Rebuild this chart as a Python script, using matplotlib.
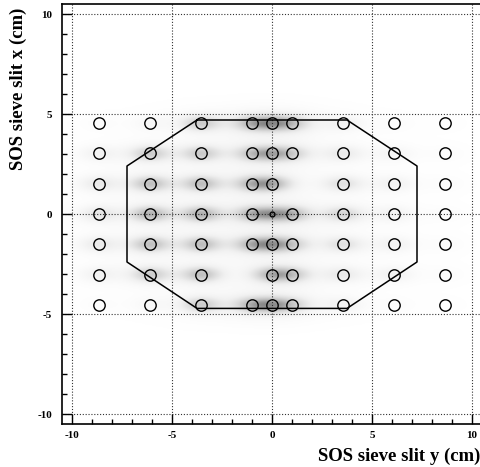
import numpy as np
import matplotlib
matplotlib.use('Agg')
import matplotlib.pyplot as plt
from matplotlib.ticker import MultipleLocator

plt.rcParams['axes.unicode_minus'] = False

# Sieve hole positions (horizontal = sieve y, vertical = sieve x), in cm
hole_cols = [-8.65, -6.1, -3.55, -1.0, 0.0, 1.0, 3.55, 6.1, 8.65]
hole_rows = [4.55, 3.03, 1.52, 0.0, -1.52, -3.03, -4.55]
missing_holes = [(1.0, 1.52), (-1.0, -3.03)]
small_hole = (0.0, 0.0)

# Relative event density around each hole (rows x cols)
cluster_weight = [
    [0.05, 0.10, 0.60, 0.60, 0.70, 0.50, 0.20, 0.05, 0.02],
    [0.20, 0.60, 0.60, 0.50, 0.60, 0.40, 0.30, 0.15, 0.05],
    [0.30, 0.70, 0.70, 0.60, 0.70, 0.00, 0.40, 0.20, 0.05],
    [0.35, 0.80, 0.80, 0.60, 0.60, 0.60, 0.50, 0.20, 0.05],
    [0.30, 0.70, 0.70, 0.60, 0.70, 0.40, 0.40, 0.20, 0.05],
    [0.20, 0.60, 0.70, 0.00, 0.70, 0.50, 0.30, 0.20, 0.05],
    [0.05, 0.10, 0.60, 0.60, 0.70, 0.40, 0.20, 0.05, 0.02],
]
cluster_sigma_h = 0.70
cluster_sigma_v = 0.27

# Octagonal acceptance cut
poly_h = [-3.75, 3.75, 7.25, 7.25, 3.75, -3.75, -7.25, -7.25, -3.75]
poly_v = [4.70, 4.70, 2.40, -2.40, -4.72, -4.72, -2.40, 2.40, 4.70]

W, H = 481, 467
fig = plt.figure(figsize=(W / 100, H / 100), dpi=100)
ax = fig.add_axes([62 / W, 43 / H, 420 / W, 420 / H])
ax.set_xlim(-10.5, 10.5)
ax.set_ylim(-10.5, 10.5)

# density image of events
gh = np.linspace(-10.5, 10.5, 630)
gv = np.linspace(-6.5, 6.5, 390)
GH, GV = np.meshgrid(gh, gv)
dens = np.zeros_like(GH)
for i, r in enumerate(hole_rows):
    for j, c in enumerate(hole_cols):
        w = cluster_weight[i][j]
        if w <= 0:
            continue
        dens += w * np.exp(-0.5 * (((GH - c) / cluster_sigma_h) ** 2 + ((GV - r) / cluster_sigma_v) ** 2))
        dens += 0.12 * w * np.exp(-0.5 * (((GH - c) / 1.6) ** 2 + ((GV - r) / 0.6) ** 2))
ax.imshow(dens, extent=[gh[0], gh[-1], gv[0], gv[-1]], origin='lower', cmap='Greys',
          vmin=0, vmax=2.3, aspect='auto', interpolation='bilinear', zorder=0)

# grid
for g in [-10, -5, 0, 5, 10]:
    ax.axvline(g, color='#333333', lw=0.8, ls=(0, (1, 1.6)), zorder=1)
    ax.axhline(g, color='#333333', lw=0.8, ls=(0, (1, 1.6)), zorder=1)

# polygon cut
ax.plot(poly_h, poly_v, color='black', lw=1.1, zorder=2)

# holes
hx, hy = [], []
for r in hole_rows:
    for c in hole_cols:
        if (c, r) in missing_holes or (c, r) == small_hole:
            continue
        hx.append(c)
        hy.append(r)
ax.plot(hx, hy, 'o', ms=8.2, mfc='none', mec='black', mew=1.0, zorder=3)
ax.plot([small_hole[0]], [small_hole[1]], 'o', ms=3.5, mfc='none', mec='black', mew=1.0, zorder=3)

ax.xaxis.set_major_locator(MultipleLocator(5))
ax.xaxis.set_minor_locator(MultipleLocator(1))
ax.yaxis.set_major_locator(MultipleLocator(5))
ax.yaxis.set_minor_locator(MultipleLocator(1))
ax.tick_params(which='both', direction='in', top=False, right=False, width=1.0)
ax.tick_params(which='major', length=7)
ax.tick_params(which='minor', length=3.5)
ax.tick_params(axis='x', pad=5)
ax.tick_params(axis='y', pad=7)
for lab in ax.get_xticklabels() + ax.get_yticklabels():
    lab.set_fontfamily('Liberation Serif')
    lab.set_fontweight('bold')
    lab.set_fontsize(8)
for s in ax.spines.values():
    s.set_linewidth(1.2)

fig.text(480 / W, 1 - 456 / H, 'SOS sieve slit y (cm)', ha='right', va='center',
         fontfamily='Liberation Serif', fontweight='bold', fontsize=13.5)
fig.text(18 / W, 1 - 8 / H, 'SOS sieve slit x (cm)', ha='center', va='top', rotation=90,
         fontfamily='Liberation Serif', fontweight='bold', fontsize=13.5)

fig.savefig('out.png', dpi=100)
